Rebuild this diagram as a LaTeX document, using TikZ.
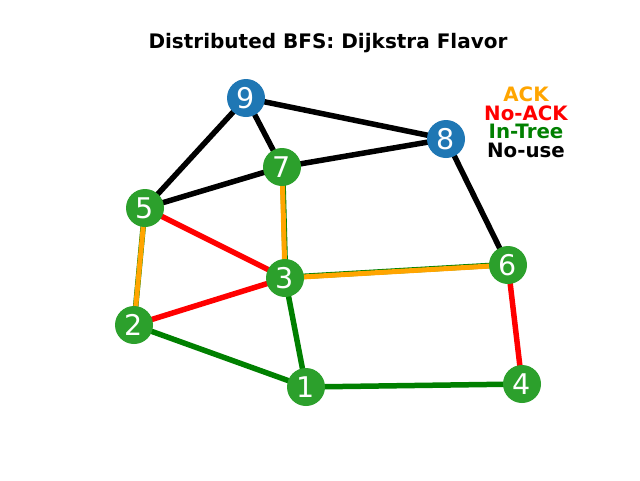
\documentclass[tikz,border=0pt]{standalone}
\usepackage{fontspec}
\setmainfont{DejaVu Sans}
\definecolor{tgreen}{HTML}{2CA02C}
\definecolor{tblue}{HTML}{1F77B4}
\definecolor{ackc}{HTML}{FFA500}
\definecolor{treec}{HTML}{008000}
\begin{document}
\begin{tikzpicture}[x=1pt,y=-1pt,
  vtx/.style={circle,minimum size=38pt,inner sep=0pt,text=white,font=\fontsize{28.5}{28.5}\selectfont},
  gv/.style={vtx,fill=tgreen},
  bv/.style={vtx,fill=tblue},
  ew/.style={line width=5.5pt},
  nouse/.style={ew,draw=black},
  noack/.style={ew,draw=red},
  intree/.style={ew,draw=treec},
  ack/.style={ew,draw=ackc},
  leg/.style={font=\fontsize{19.8}{19.8}\selectfont\bfseries,inner sep=0pt,anchor=center}]
\useasboundingbox (0,0) rectangle (640,480);
\fill[white] (0,0) rectangle (640,480);
\node[font=\fontsize{20}{20}\selectfont\bfseries] (title) at (328,43) {Distributed BFS: Dijkstra Flavor};
\coordinate (p9) at (246,98);
\coordinate (p8) at (446,139);
\coordinate (p7) at (282,167);
\coordinate (p5) at (145,208);
\coordinate (p3) at (285,278);
\coordinate (p6) at (508,265);
\coordinate (p2) at (134,325);
\coordinate (p1) at (306,387);
\coordinate (p4) at (522,384);
% edges
\draw[nouse] (p9) -- (p8);
\draw[nouse] (p9) -- (p5);
\draw[nouse] (p9) -- (p7);
\draw[nouse] (p7) -- (p8);
\draw[nouse] (p5) -- (p7);
\draw[nouse] (p8) -- (p6);
\draw[noack] (p5) -- (p3);
\draw[noack] (p2) -- (p3);
\draw[noack] (p6) -- (p4);
\draw[intree] (p3) -- (p1);
\draw[intree] (p2) -- (p1);
\draw[intree] (p1) -- (p4);
\draw[intree] ([yshift=0.6pt]p5) -- ([yshift=0.6pt]p2);
\draw[intree] ([xshift=0.6pt]p7) -- ([xshift=0.6pt]p3);
\draw[intree] ([yshift=0.6pt]p3) -- ([yshift=0.6pt]p6);
\draw[ack,line width=5pt] (p5) -- (p2);
\draw[ack,line width=5pt] (p7) -- (p3);
\draw[ack,line width=5pt] (p3) -- (p6);
% nodes
\node[bv] (n9) at (p9) {9};
\node[bv] (n8) at (p8) {8};
\node[gv] (n7) at (p7) {7};
\node[gv] (n5) at (p5) {5};
\node[gv] (n3) at (p3) {3};
\node[gv] (n6) at (p6) {6};
\node[gv] (n2) at (p2) {2};
\node[gv] (n1) at (p1) {1};
\node[gv] (n4) at (p4) {4};
% legend
\node[leg,text=ackc] (l1) at (526,94) {ACK};
\node[leg,text=red] (l2) at (526,113) {No-ACK};
\node[leg,text=treec] (l3) at (526,131) {In-Tree};
\node[leg,text=black] (l4) at (526,150) {No-use};
\end{tikzpicture}
\end{document}
